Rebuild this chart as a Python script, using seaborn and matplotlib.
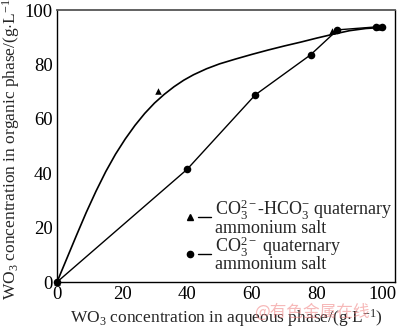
import matplotlib
matplotlib.use("Agg")
import matplotlib.pyplot as plt
import seaborn as sns
import pandas as pd
from matplotlib.lines import Line2D
from matplotlib.legend_handler import HandlerTuple

# ---- data ----
tri_x = [0, 31, 84.5, 99]
tri_y = [0, 70.3, 92.3, 93.8]
circ_x = [0, 40, 61, 78, 86.3, 98.3, 100]
circ_y = [0, 41.4, 68.8, 83.5, 92.7, 93.8, 93.8]
# fitted curve for the CO3-HCO3 system
fit_x = [0, 3, 6, 9, 12, 15, 18, 21, 24, 27, 30, 33, 36, 39, 42, 46, 50,
         55, 60, 65, 70, 75, 80, 85, 90, 95, 100]
fit_y = [0, 8.6, 17.2, 25.6, 33.4, 40.6, 47.0, 52.6, 57.6, 62.0, 65.8, 69.0,
         71.8, 74.2, 76.2, 78.4, 80.2, 82.0, 83.7, 85.3, 86.8, 88.2, 89.7,
         91.1, 92.4, 93.2, 93.6]
x_ticks = [0, 20, 40, 60, 80, 100]
y_ticks = [0, 20, 40, 60, 80, 100]
label_tri = "CO$_3^{2-}$-HCO$_3^{-}$ quaternary\nammonium salt"
label_circ = "CO$_3^{2-}$ quaternary\nammonium salt"
x_label = "WO$_3$ concentration in aqueous phase/(g$\\cdot$L$^{-1}$)"
y_label = "WO$_3$ concentration in organic phase/(g$\\cdot$L$^{-1}$)"

sns.set_style("white")
plt.rcParams["font.family"] = ["Liberation Serif", "DejaVu Serif"]
plt.rcParams["mathtext.fontset"] = "custom"
plt.rcParams["mathtext.rm"] = "Liberation Serif"
plt.rcParams["mathtext.it"] = "Liberation Serif:italic"
plt.rcParams["mathtext.bf"] = "Liberation Serif:bold"

fig = plt.figure(figsize=(4, 3.28), dpi=100)
ax = fig.add_axes([0.1425, 0.14, 0.845, 0.8295])

fit_df = pd.DataFrame({"x": fit_x, "y": fit_y})
circ_df = pd.DataFrame({"x": circ_x, "y": circ_y})
tri_df = pd.DataFrame({"x": tri_x, "y": tri_y})

sns.lineplot(data=fit_df, x="x", y="y", ax=ax, color="black", lw=1.2, sort=False)
sns.lineplot(data=circ_df, x="x", y="y", ax=ax, color="black", lw=1.0, sort=False)
sns.scatterplot(data=tri_df, x="x", y="y", ax=ax, marker="^", s=22, color="black",
                edgecolor="black", linewidth=0, clip_on=False, zorder=3)
sns.scatterplot(data=circ_df, x="x", y="y", ax=ax, marker="o", s=30, color="black",
                edgecolor="black", linewidth=0, clip_on=False, zorder=3)

ax.set_xlim(0, 104)
ax.set_ylim(0, 100)
ax.set_xticks(x_ticks)
ax.set_yticks(y_ticks)
ax.tick_params(direction="in", length=3.5, width=0.8, labelsize=13.5, pad=3,
               top=False, right=False, colors="black")
for s in ax.spines.values():
    s.set_color("black")
    s.set_linewidth(1.0)
ax.spines["top"].set_color("#555555")
ax.spines["top"].set_linewidth(1.3)

ax.set_xlabel(x_label, fontsize=12.5, labelpad=3)
ax.set_ylabel(y_label, fontsize=12.5, labelpad=2)

h_tri_m = Line2D([], [], marker="^", color="black", ls="none", markersize=4.5)
h_circ_m = Line2D([], [], marker="o", color="black", ls="none", markersize=4.5)
h_line = Line2D([], [], color="black", lw=1.0)
leg = ax.legend([(h_tri_m, h_line), (h_circ_m, h_line)], [label_tri, label_circ],
                handler_map={tuple: HandlerTuple(ndivide=2, pad=0.1)},
                loc="upper left", bbox_to_anchor=(0.375, 0.31), frameon=False,
                fontsize=13, handlelength=1.5, handletextpad=0.25,
                labelspacing=-0.15, borderpad=0, borderaxespad=0)
for t in leg.get_texts():
    t.set_linespacing(0.82)

fig.text(0.635, 0.035, "@有色金属在线", fontsize=12, color="#f08080", alpha=0.55,
         family=["Noto Sans CJK SC", "DejaVu Sans"])

fig.savefig("out.png", dpi=100)
